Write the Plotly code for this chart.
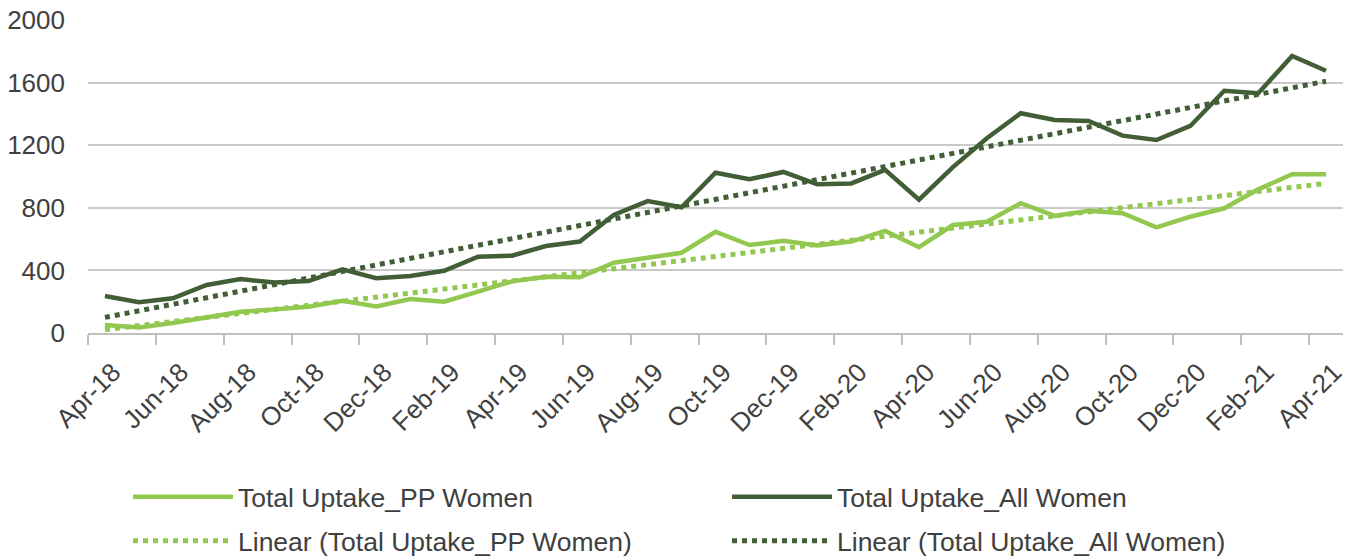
import numpy as np
import plotly.graph_objects as go

months = ["Apr-18", "May-18", "Jun-18", "Jul-18", "Aug-18", "Sep-18", "Oct-18", "Nov-18", "Dec-18",
          "Jan-19", "Feb-19", "Mar-19", "Apr-19", "May-19", "Jun-19", "Jul-19", "Aug-19", "Sep-19",
          "Oct-19", "Nov-19", "Dec-19", "Jan-20", "Feb-20", "Mar-20", "Apr-20", "May-20", "Jun-20",
          "Jul-20", "Aug-20", "Sep-20", "Oct-20", "Nov-20", "Dec-20", "Jan-21", "Feb-21", "Mar-21",
          "Apr-21"]

pp_women = [51, 35, 64, 100, 136, 151, 168, 206, 170, 217, 200, 264, 330, 360, 356, 449, 484, 513,
            647, 562, 590, 560, 584, 652, 548, 690, 711, 829, 748, 781, 765, 675, 743, 797, 918,
            1014, 1014]

all_women = [236, 196, 222, 307, 345, 322, 332, 407, 350, 364, 398, 488, 494, 556, 584, 754, 843,
             803, 1024, 982, 1029, 950, 956, 1042, 852, 1060, 1244, 1404, 1361, 1355, 1261, 1233,
             1323, 1548, 1532, 1770, 1676]

LIGHT = "#92C84F"
DARK = "#415E36"

idx = np.arange(len(months))
pp_fit = np.polyval(np.polyfit(idx, pp_women, 1), idx)
all_fit = np.polyval(np.polyfit(idx, all_women, 1), idx)

fig = go.Figure()
fig.add_trace(go.Scatter(x=months, y=pp_women, mode="lines", name="Total Uptake_PP Women",
                         line=dict(color=LIGHT, width=4.5), legend="legend"))
fig.add_trace(go.Scatter(x=months, y=all_women, mode="lines", name="Total Uptake_All Women",
                         line=dict(color=DARK, width=4.5), legend="legend"))
fig.add_trace(go.Scatter(x=months, y=pp_fit, mode="lines", name="Linear (Total Uptake_PP Women)",
                         line=dict(color=LIGHT, width=5, dash="5px,5px"), legend="legend2"))
fig.add_trace(go.Scatter(x=months, y=all_fit, mode="lines", name="Linear (Total Uptake_All Women)",
                         line=dict(color=DARK, width=5, dash="5px,5px"), legend="legend2"))

font = "Liberation Sans, Arial, sans-serif"
W, H = 1358, 556
leg_common = dict(orientation="h", xref="container", yref="container",
                  x=128 / W, xanchor="left", yanchor="middle",
                  entrywidth=484, entrywidthmode="pixels", itemwidth=100,
                  font=dict(family=font, size=26.5, color="#404040"),
                  bgcolor="rgba(0,0,0,0)")

fig.update_layout(
    width=W, height=H,
    margin=dict(l=88, r=15, t=20, b=223),
    plot_bgcolor="white", paper_bgcolor="white",
    font=dict(family=font, size=26, color="#404040"),
    showlegend=True,
    legend=dict(leg_common, y=1 - 497 / H),
    legend2=dict(leg_common, y=1 - 541 / H),
    xaxis=dict(type="category", tickangle=-45, dtick=2, tickson="boundaries",
               ticks="outside", ticklen=10, tickcolor="#BFBFBF", tickwidth=1.5,
               showline=True, linecolor="#BFBFBF", linewidth=1.5, showgrid=False,
               tickfont=dict(size=26, color="#404040"), range=[-0.5, 36.5],
               automargin=False, ticklabelstandoff=12, ticklabelshift=8),
    yaxis=dict(range=[0, 2000], dtick=400, showgrid=True, gridcolor="#C9C9C9", gridwidth=1.5,
               zeroline=False, showline=False, ticks="", ticklabelstandoff=22,
               tickfont=dict(size=26, color="#404040"), automargin=False),
)

fig.write_html("out.html", config={"displayModeBar": False},
               post_script="document.body.style.margin='0';document.body.style.overflow='hidden';")
